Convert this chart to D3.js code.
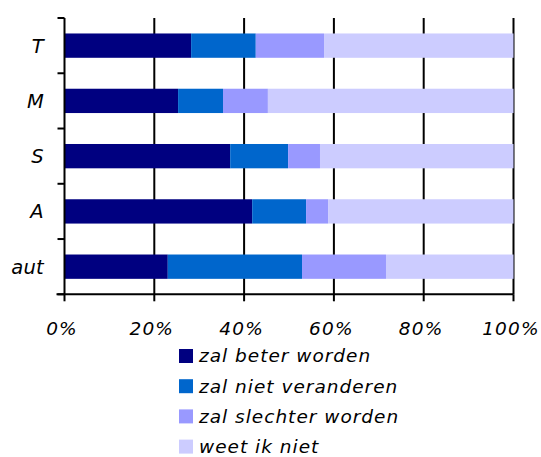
<!DOCTYPE html>
<html><head><meta charset="utf-8">
<script src="https://cdn.jsdelivr.net/npm/d3@7"></script>
<style>body{margin:0;background:#fff}svg{display:block}text{font-family:"DejaVu Sans",Verdana,sans-serif;font-style:italic;fill:#000}</style>
</head><body><svg id="c" width="541" height="457"></svg>
<script>
const categories = ["T","M","S","A","aut"];
const seriesNames = ["zal beter worden","zal niet veranderen","zal slechter worden","weet ik niet"];
const colors = ["#000080","#0066CC","#9999FF","#CCCCFF"];
const beter = [28.2, 25.3, 36.9, 41.8, 23.0];
const nietVeranderen = [14.4, 10.0, 12.9, 12.0, 29.9];
const slechter = [15.2, 10.0, 7.1, 4.9, 18.7];
const weetNiet = [42.2, 54.7, 43.1, 41.3, 28.4];
const xTicks = [0,20,40,60,80,100];

(function(){
const svg = d3.select("#c");
const pL = 64.5, pR = 513.5, pT = 18, pB = 294.3;
const x = d3.scaleLinear().domain([0,100]).range([pL,pR]);
const y = d3.scaleBand().domain(categories).range([pT,pB]).paddingInner(0.56).paddingOuter(0.28);
const yOuter = d3.scaleBand().domain(categories).range([pT,pB]);

const rows = categories.map((c,i)=>({cat:c, v:[beter[i],nietVeranderen[i],slechter[i],weetNiet[i]]}));

svg.append("g").selectAll("line").data(xTicks.slice(1)).join("line")
  .attr("x1",d=>x(d)).attr("x2",d=>x(d)).attr("y1",pT).attr("y2",pB)
  .attr("stroke","#000").attr("stroke-width",2);

rows.forEach(r=>{
  let acc=0;
  r.v.forEach((v,j)=>{
    svg.append("rect").attr("x",x(acc)).attr("width",x(acc+v)-x(acc))
      .attr("y",y(r.cat)).attr("height",y.bandwidth()).attr("fill",colors[j]);
    acc+=v;
  });
});

const ya = svg.append("g");
ya.append("line").attr("x1",pL).attr("x2",pL).attr("y1",pT).attr("y2",pB).attr("stroke","#000").attr("stroke-width",2);
const yTickPos = categories.map(c=>yOuter(c)).concat([pB]);
ya.selectAll("line.t").data(yTickPos).join("line").attr("class","t")
  .attr("x1",pL-7).attr("x2",pL).attr("y1",d=>d).attr("y2",d=>d).attr("stroke","#000").attr("stroke-width",2);
ya.selectAll("text").data(categories).join("text")
  .attr("x",44).attr("y",d=>yOuter(d)+yOuter.bandwidth()/2).attr("dy","0.36em")
  .attr("text-anchor","end").attr("font-size",19.5).attr("letter-spacing",0.3).text(d=>d);

const xa = svg.append("g");
xa.append("line").attr("x1",pL-8).attr("x2",pR).attr("y1",pB).attr("y2",pB).attr("stroke","#000").attr("stroke-width",2);
xa.selectAll("line.t").data(xTicks).join("line").attr("class","t")
  .attr("x1",d=>x(d)).attr("x2",d=>x(d)).attr("y1",pB).attr("y2",pB+7).attr("stroke","#000").attr("stroke-width",2);
xa.selectAll("text").data(xTicks).join("text")
  .attr("x",d=>x(d)-2.5).attr("y",335).attr("text-anchor","middle").attr("font-size",18.5)
  .attr("letter-spacing",1.2).text(d=>d+"%");

const lg = svg.append("g");
seriesNames.forEach((n,i)=>{
  const cy = 356 + i*30.2;
  lg.append("rect").attr("x",179).attr("y",cy-7).attr("width",14).attr("height",14).attr("fill",colors[i]);
  lg.append("text").attr("x",199).attr("y",cy).attr("dy","0.35em").attr("font-size",18.5).attr("letter-spacing",1).text(n);
});
})();
</script></body></html>
